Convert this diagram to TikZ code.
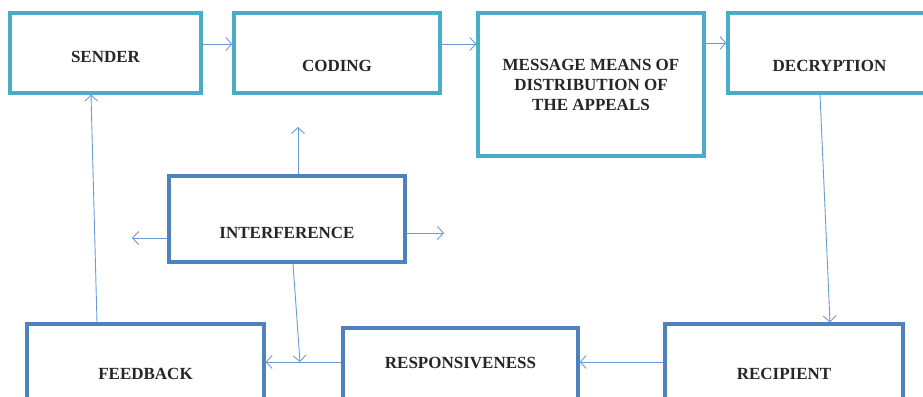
\documentclass[tikz,border=0pt]{standalone}
\usepackage{fontspec}
\setmainfont{Liberation Serif}
\usepackage{tikz}
\usetikzlibrary{arrows.meta}
\definecolor{aqua}{HTML}{4BACC6}
\definecolor{ofblue}{HTML}{4F81BD}
\definecolor{lnblue}{HTML}{6B9BD6}
\tikzset{
  bx/.style={rectangle,draw=aqua,fill=white,line width=3.2pt,inner sep=0pt},
  bxb/.style={rectangle,draw=ofblue,fill=white,line width=3.2pt,inner sep=0pt},
  txt/.style={font=\fontsize{17}{20}\selectfont\bfseries,text=black!85,align=center},
  arr/.style={-{Straight Barb[length=6pt,width=13pt]},draw=lnblue,line width=.9pt},
}

\begin{document}
\begin{tikzpicture}[x=1pt,y=-1pt]
\useasboundingbox (0,0) rectangle (923,396);
\clip (0,0) rectangle (923,396);
% ---------- top row: sender to decryption ----------
\node[bx,minimum width=191pt,minimum height=80pt,label={[txt,yshift=-4pt]center:SENDER}] (sender) at (105.5,53) {};
\node[bx,minimum width=206pt,minimum height=80pt,label={[txt,yshift=-13pt]center:CODING}] (coding) at (337,53) {};
\node[bx,minimum width=226pt,minimum height=143pt,
  label={[txt]center:MESSAGE MEANS OF\\ DISTRIBUTION OF\\ THE APPEALS}] (msg) at (591,84.5) {};
\node[bx,minimum width=207pt,minimum height=80pt,label={[txt,yshift=-13pt,xshift=-2pt]center:DECRYPTION}] (decrypt) at (831.5,53) {};
% ---------- middle: interference ----------
\node[bxb,minimum width=236pt,minimum height=86pt,label={[txt,yshift=-14pt]center:INTERFERENCE}] (interf) at (287,219) {};
\coordinate (n-up) at (298,127);
\coordinate (n-left) at (132,238);
\coordinate (n-right) at (444,233);
% ---------- bottom row: recipient back to feedback ----------
\node[bxb,minimum width=237pt,minimum height=100pt,label={[txt]center:FEEDBACK}] (feedback) at (145.5,374) {};
\node[bxb,minimum width=235pt,minimum height=100pt,label={[txt,yshift=15pt]center:RESPONSIVENESS}] (respons) at (460.5,378) {};
\node[bxb,minimum width=238pt,minimum height=100pt,label={[txt]center:RECIPIENT}] (recip) at (784,374) {};
\coordinate (hit) at (300,362);
% ---------- connectors ----------
\draw[arr] ([yshift=9pt]sender.east) -- ([yshift=9pt]coding.west);
\draw[arr] ([yshift=9pt]coding.east) -- ([yshift=9pt]coding.east -| msg.west);
\draw[arr] ([yshift=10pt]decrypt.west -| msg.east) -- ([yshift=10pt]decrypt.west);
\draw[arr] ([xshift=-11.5pt]decrypt.south) -- ([xshift=46pt]recip.north);
\draw[arr] ([yshift=12pt]recip.west) -- ([yshift=12pt]recip.west -| respons.east);
\draw[arr] ([yshift=16pt]respons.west) -- ([yshift=16pt]respons.west -| feedback.east);
\draw[arr] ([xshift=6pt]interf.south) -- (hit);
\draw[arr] ([xshift=11pt]interf.north) -- (n-up);
\draw[arr] ([yshift=-19pt]interf.west) -- (n-left);
\draw[arr] ([yshift=-14pt]interf.east) -- (n-right);
\draw[arr] ([xshift=-48.5pt]feedback.north) -- ([xshift=-14.5pt]sender.south);
\end{tikzpicture}
\end{document}
